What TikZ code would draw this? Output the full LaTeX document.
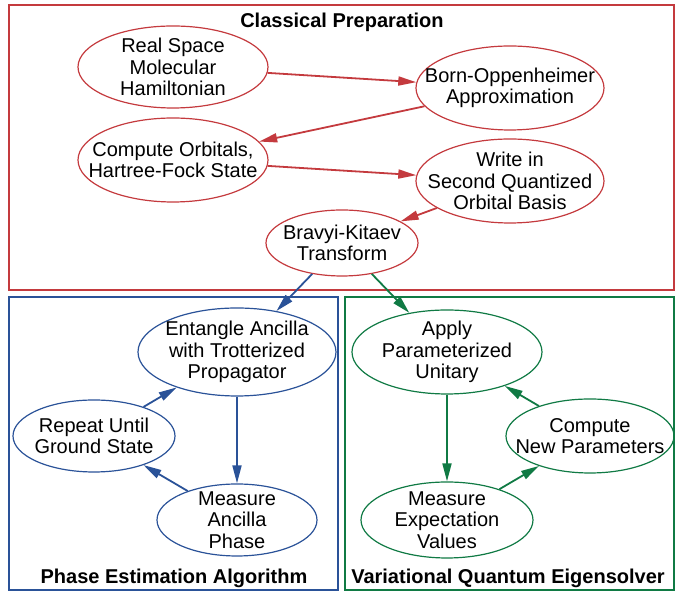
\documentclass[tikz,border=0pt]{standalone}
\usepackage{fontspec}
\setmainfont{Liberation Sans}
\usetikzlibrary{shapes.geometric,arrows.meta}

\definecolor{prepred}{RGB}{196,58,62}
\definecolor{phaseblue}{RGB}{42,82,152}
\definecolor{vqegreen}{RGB}{16,122,68}

\tikzset{
  stage/.style={draw, ellipse, inner sep=0pt, line width=0.6pt},
  stagetext/.style={align=center, inner sep=0pt},
  flow/.style={line width=0.9pt, -{Triangle[length=9pt,width=4.5pt]}},
  frame/.style={line width=0.8pt},
  heading/.style={font=\bfseries}
}

\begin{document}
\begin{tikzpicture}[x=0.5pt, y=-0.5pt]
  \fontsize{10pt}{10.7pt}\selectfont
  \useasboundingbox (0,0) rectangle (677,592);

  % Frames
  \draw[frame, prepred] (9,5) rectangle (674,290);
  \draw[frame, phaseblue] (9,297) rectangle (338,590);
  \draw[frame, vqegreen] (345,297) rectangle (674,590);

  \node[heading] (prep) at (342,22) {Classical Preparation};
  \node[heading] (pea) at (174,578) {Phase Estimation Algorithm};
  \node[heading] (vqe) at (508,578) {Variational Quantum Eigensolver};

  % Classical preparation
  \node[stage, prepred, minimum width=95pt, minimum height=41pt] (ham) at (173,67) {};
  \node[stagetext] (ham-t) at (ham) {Real Space\\Molecular\\Hamiltonian};
  \node[stage, prepred, minimum width=94pt, minimum height=42pt] (born) at (510,88) {};
  \node[stagetext] (born-t) at (born) {Born-Oppenheimer\\Approximation};
  \node[stage, prepred, minimum width=95pt, minimum height=42pt] (hf) at (173,160) {};
  \node[stagetext] (hf-t) at (hf) {Compute Orbitals,\\Hartree-Fock State};
  \node[stage, prepred, minimum width=94pt, minimum height=42pt] (sq) at (510,181) {};
  \node[stagetext] (sq-t) at (sq) {Write in\\Second Quantized\\Orbital Basis};
  \node[stage, prepred, minimum width=76pt, minimum height=33pt] (bk) at (342,243) {};
  \node[stagetext] (bk-t) at (bk) {Bravyi-Kitaev\\Transform};

  \draw[flow, prepred] (ham) -- (born);
  \draw[flow, prepred] (born) -- (hf);
  \draw[flow, prepred] (hf) -- (sq);
  \draw[flow, prepred] (sq) -- (bk);

  % Phase estimation
  \node[stage, phaseblue, minimum width=99pt, minimum height=44pt] (ent) at (237,352) {};
  \node[stagetext] (ent-t) at (ent) {Entangle Ancilla\\with Trotterized\\Propagator};
  \node[stage, phaseblue, minimum width=81pt, minimum height=36pt] (rep) at (94,436) {};
  \node[stagetext] (rep-t) at (rep) {Repeat Until\\Ground State};
  \node[stage, phaseblue, minimum width=80pt, minimum height=36pt] (meas) at (237,520) {};
  \node[stagetext] (meas-t) at (meas) {Measure\\Ancilla\\Phase};

  \draw[flow, phaseblue] (bk) -- (ent);
  \draw[flow, phaseblue] (ent) -- (meas);
  \draw[flow, phaseblue] (meas) -- (rep);
  \draw[flow, phaseblue] (rep) -- (ent);

  % Variational quantum eigensolver
  \node[stage, vqegreen, minimum width=95pt, minimum height=42pt] (unit) at (447,352) {};
  \node[stagetext] (unit-t) at (unit) {Apply\\Parameterized\\Unitary};
  \node[stage, vqegreen, minimum width=84pt, minimum height=37pt] (par) at (590,436) {};
  \node[stagetext] (par-t) at (par) {Compute\\New Parameters};
  \node[stage, vqegreen, minimum width=86pt, minimum height=38pt] (expv) at (447,520) {};
  \node[stagetext] (expv-t) at (expv) {Measure\\Expectation\\Values};

  \draw[flow, vqegreen] (bk) -- (unit);
  \draw[flow, vqegreen] (unit) -- (expv);
  \draw[flow, vqegreen] (expv) -- (par);
  \draw[flow, vqegreen] (par) -- (unit);

\end{tikzpicture}
\end{document}
